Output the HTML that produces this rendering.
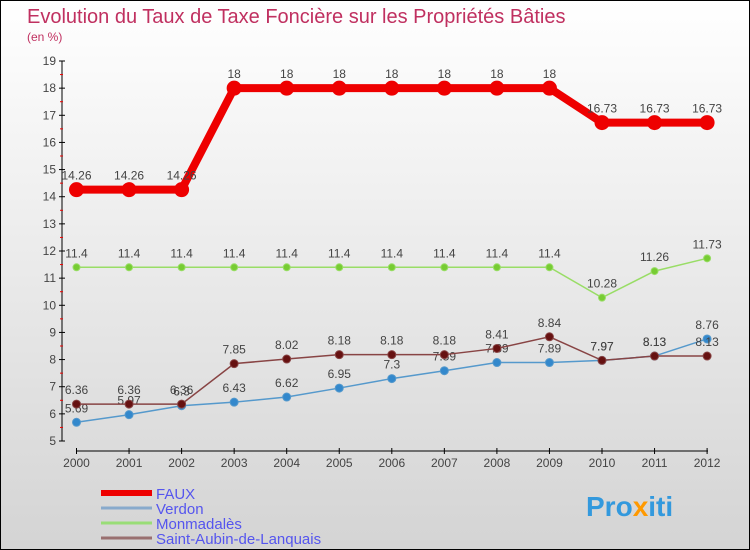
<!DOCTYPE html>
<html><head><meta charset="utf-8"><style>
body{margin:0}
#c{width:750px;height:550px;position:relative;box-sizing:border-box;border:1px solid #000;background:linear-gradient(#ffffff,#d4d4d4);font-family:"Liberation Sans",sans-serif;overflow:hidden}
svg{position:absolute;left:0;top:0}
</style></head><body>
<div id="c">
<svg id="s" width="750" height="550">
<text x="26" y="22" font-size="20" fill="#c03060">Evolution du Taux de Taxe Foncière sur les Propriétés Bâties</text>
<text x="26" y="40" font-size="12" fill="#c03060">(en %)</text>
<text x="585" y="515" font-size="28" font-weight="bold" fill="#3399dd">Pro<tspan fill="#ff9900">x</tspan>iti</text>
</svg>
</div>
<script>
const years=[2000,2001,2002,2003,2004,2005,2006,2007,2008,2009,2010,2011,2012];
const faux=[14.26,14.26,14.26,18,18,18,18,18,18,18,16.73,16.73,16.73];
const verdon=[5.69,5.97,6.3,6.43,6.62,6.95,7.3,7.59,7.89,7.89,7.97,8.13,8.76];
const monmadales=[11.4,11.4,11.4,11.4,11.4,11.4,11.4,11.4,11.4,11.4,10.28,11.26,11.73];
const saintAubin=[6.36,6.36,6.36,7.85,8.02,8.18,8.18,8.18,8.41,8.84,7.97,8.13,8.13];
const yTicks=[5,6,7,8,9,10,11,12,13,14,15,16,17,18,19];
const NS="http://www.w3.org/2000/svg";
const svg=document.getElementById('s');
const X=i=>75.5+i*52.55, Y=v=>440-(v-5)*(380/14);
function el(t,a,p){const e=document.createElementNS(NS,t);for(const k in a)e.setAttribute(k,a[k]);(p||svg).appendChild(e);return e;}
const ax=el('line',{x1:61,y1:60,x2:61,y2:440,stroke:'#000'});


const xa=el('line',{x1:75,y1:450,x2:707,y2:450,stroke:'#000'});


yTicks.forEach(v=>{
 el('line',{x1:58,y1:Y(v),x2:64,y2:Y(v),stroke:'#000'});
 if(v<19)el('line',{x1:59,y1:Y(v+0.5),x2:62,y2:Y(v+0.5),stroke:'#e00'});
 const t=el('text',{x:55,y:Y(v)+4,'font-size':12,fill:'#444','text-anchor':'end'});t.textContent=v;
 
 
});
years.forEach((y,i)=>{
 el('line',{x1:X(i),y1:447,x2:X(i),y2:453,stroke:'#000'});
 const t=el('text',{x:X(i),y:466,'font-size':12,fill:'#444','text-anchor':'middle'});t.textContent=y;
 
 
});
function series(d,name,col,w,r,fill){
 const g=el('g',{});
 
 
 el('polyline',{points:d.map((v,i)=>X(i)+','+Y(v)).join(' '),fill:'none',stroke:col,'stroke-width':w},g);
 d.forEach((v,i)=>{
  const c=el('circle',{cx:X(i),cy:Y(v),r:r,fill:fill,stroke:col},g);
  
  
  const t=el('text',{x:X(i),y:Y(v)-10,'font-size':12,fill:'#444','text-anchor':'middle'},g);t.textContent=v;
  
  
 });
}
series(monmadales,'monmadales','#99dd66',1.5,3.5,'#77cc33');
series(verdon,'verdon','#5599cc',1.5,4,'#3388cc');
series(saintAubin,'saint-aubin','#884444',1.5,4,'#661111');
series(faux,'faux','#ee0000',8,7,'#ee0000');
const leg=[['FAUX','#ee0000',6],['Verdon','#88aacc',3],['Monmadalès','#99dd77',3],['Saint-Aubin-de-Lanquais','#997070',3]];
leg.forEach((l,i)=>{
 const y=492+i*15;
 const ln=el('line',{x1:100,y1:y,x2:151,y2:y,stroke:l[1],'stroke-width':l[2]});
 
 
 const t=el('text',{x:155,y:y+6,'font-size':15,fill:'#5555ee'});t.textContent=l[0];
 
 
});
</script>
</body></html>
